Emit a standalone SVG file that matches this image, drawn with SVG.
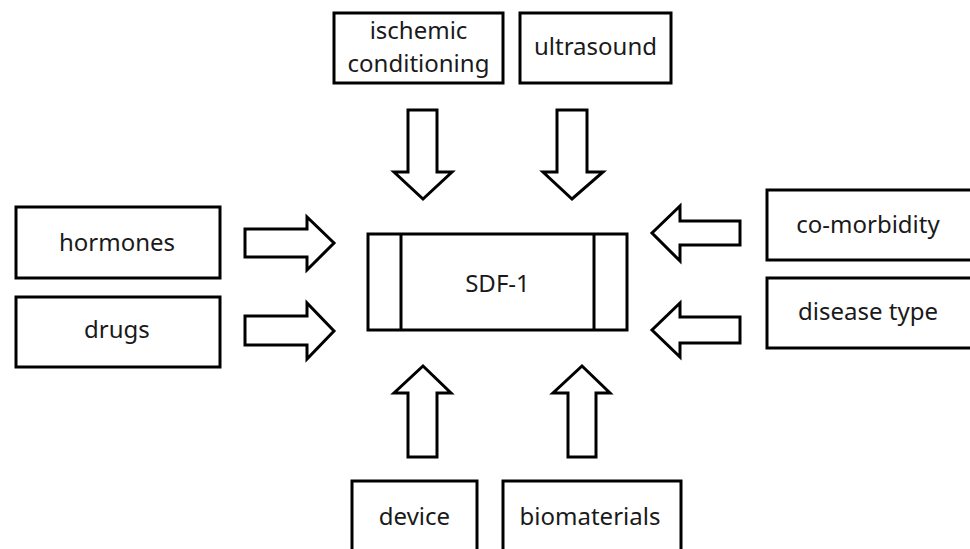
<svg xmlns="http://www.w3.org/2000/svg" width="970" height="549" viewBox="0 0 970 549">
  <style>
    .box { fill: #ffffff; stroke: #000000; stroke-width: 3; }
    .arrow { fill: #ffffff; stroke: #000000; stroke-width: 3; stroke-linejoin: miter; }
    .label { font-family: "Noto Sans", "Open Sans", "Liberation Sans", sans-serif; font-size: 24px; fill: #1a1a1a; text-anchor: middle; }
  </style>
  <rect width="970" height="549" fill="#ffffff"/>

  <!-- central factor -->
  <g id="sdf1">
    <rect class="box" x="368" y="234" width="259" height="96"/>
    <line class="box" x1="401" y1="234" x2="401" y2="330"/>
    <line class="box" x1="594" y1="234" x2="594" y2="330"/>
    <text class="label" x="497.5" y="292">SDF-1</text>
  </g>

  <!-- influencing factors -->
  <g id="ischemic-conditioning">
    <rect class="box" x="334" y="13" width="169" height="70"/>
    <text class="label" x="418.5" y="39">ischemic</text>
    <text class="label" x="418.5" y="72">conditioning</text>
  </g>
  <g id="ultrasound">
    <rect class="box" x="520" y="13" width="151" height="70"/>
    <text class="label" x="595.5" y="55">ultrasound</text>
  </g>
  <g id="hormones">
    <rect class="box" x="16" y="207" width="204" height="71"/>
    <text class="label" x="117" y="251">hormones</text>
  </g>
  <g id="drugs">
    <rect class="box" x="16" y="297" width="204" height="70"/>
    <text class="label" x="117" y="338">drugs</text>
  </g>
  <g id="co-morbidity">
    <rect class="box" x="767" y="190" width="206" height="70"/>
    <text class="label" x="868" y="233">co-morbidity</text>
  </g>
  <g id="disease-type">
    <rect class="box" x="767" y="278" width="206" height="70"/>
    <text class="label" x="868" y="320">disease type</text>
  </g>
  <g id="device">
    <rect class="box" x="352" y="481" width="125" height="80"/>
    <text class="label" x="414.5" y="525">device</text>
  </g>
  <g id="biomaterials">
    <rect class="box" x="503" y="481" width="178" height="80"/>
    <text class="label" x="590" y="525">biomaterials</text>
  </g>

  <!-- block arrows toward SDF-1 -->
  <g id="connectors">
    <polygon class="arrow" points="408,110 437,110 437,172 452,172 423,199 394,172 408,172"/>
    <polygon class="arrow" points="557,110 587,110 587,172 603,172 572,199 543,172 557,172"/>
    <polygon class="arrow" points="245,229 307,229 307,217 334,243 307,270 307,257 245,257"/>
    <polygon class="arrow" points="245,316 307,316 307,303 334,331 307,359 307,345 245,345"/>
    <polygon class="arrow" points="740,221 680,221 680,206 652,233 680,261 680,245 740,245"/>
    <polygon class="arrow" points="740,317 680,317 680,303 652,330 680,357 680,343 740,343"/>
    <polygon class="arrow" points="408,457 408,393 394,393 423,366 451,393 437,393 437,457"/>
    <polygon class="arrow" points="568,457 568,393 553,393 582,366 610,393 596,393 596,457"/>
  </g>
</svg>
